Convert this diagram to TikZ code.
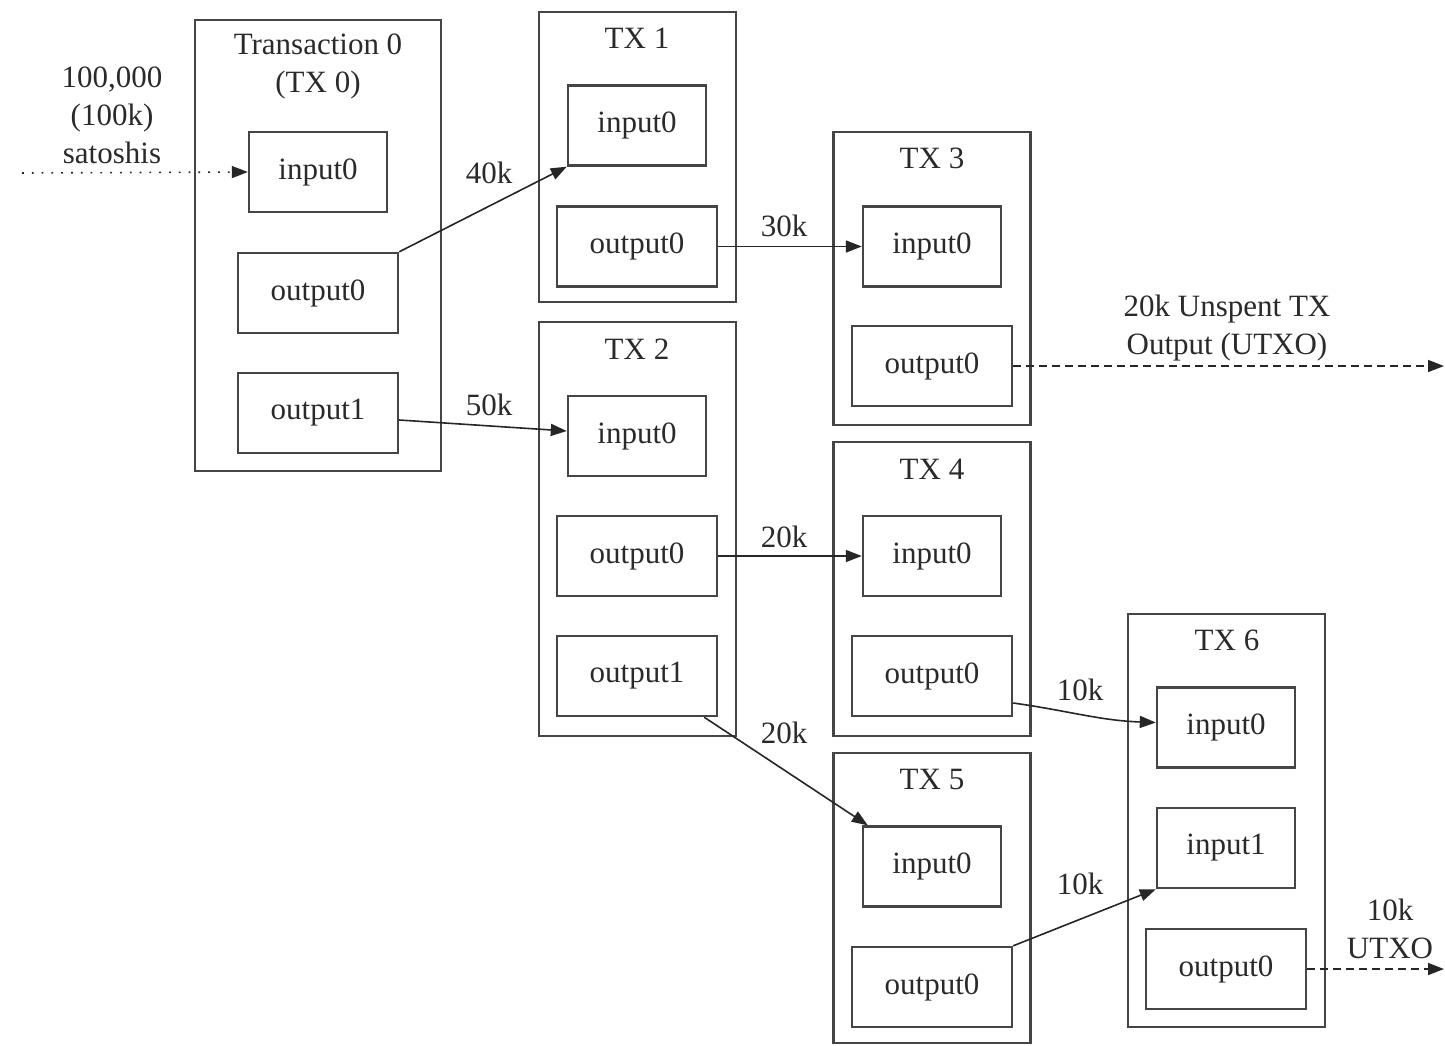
\documentclass[tikz,border=0pt]{standalone}
\usepackage{fontspec}
\setmainfont{Liberation Serif}
\usetikzlibrary{arrows.meta,calc}
\definecolor{boxc}{HTML}{454545}
\definecolor{txtc}{HTML}{2A2A2A}
\begin{document}
\begin{tikzpicture}[x=0.5pt,y=-0.5pt,
  every node/.style={font=\fontsize{15.5pt}{19pt}\selectfont, text=txtc},
  txbox/.style={draw=boxc, line width=1.1pt, inner sep=0pt, minimum width=98.5pt},
  inbox/.style={draw=boxc, line width=1.2pt, inner sep=0pt, minimum width=69pt, minimum height=40pt},
  outbox/.style={draw=boxc, line width=1.2pt, inner sep=0pt, minimum width=80pt, minimum height=40pt},
  lbl/.style={align=center, inner sep=0pt},
  edge/.style={draw=black!85, line width=0.8pt, -{Triangle[length=8pt,width=6pt]}},
  dotedge/.style={edge, dash pattern=on 0.9pt off 4pt},
  dashedge/.style={edge, dash pattern=on 4pt off 2.5pt}
]
\useasboundingbox (0,0) rectangle (1445,1045);

% outer transaction boxes
\node[txbox, minimum width=123pt, minimum height=225.5pt] (tx0) at (318,245.5) {};
\node[txbox, minimum height=145pt] (tx1) at (637.5,157) {};
\node[txbox, minimum height=207pt] (tx2) at (637.5,529) {};
\node[txbox, minimum height=146.5pt] (tx3) at (932,278.5) {};
\node[txbox, minimum height=147pt] (tx4) at (932,589) {};
\node[txbox, minimum height=145pt] (tx5) at (932,898) {};
\node[txbox, minimum height=206.5pt] (tx6) at (1226.5,820.5) {};

% titles
\node[lbl] (ttl0) at (318,66) {Transaction 0\\(TX 0)};
\node[lbl] (ttl1) at (637,38) {TX 1};
\node[lbl] (ttl2) at (637,349) {TX 2};
\node[lbl] (ttl3) at (932,158) {TX 3};
\node[lbl] (ttl4) at (932,469) {TX 4};
\node[lbl] (ttl5) at (932,779) {TX 5};
\node[lbl] (ttl6) at (1227,640) {TX 6};

% inner boxes
\node[inbox] (t0i0) at (318,172) {input0};
\node[outbox] (t0o0) at (318,293) {output0};
\node[outbox] (t0o1) at (318,413) {output1};

\node[inbox] (t1i0) at (637,125.5) {input0};
\node[outbox] (t1o0) at (637,246.5) {output0};

\node[inbox] (t2i0) at (637,436) {input0};
\node[outbox] (t2o0) at (637,556) {output0};
\node[outbox] (t2o1) at (637,676) {output1};

\node[inbox] (t3i0) at (932,246.5) {input0};
\node[outbox] (t3o0) at (932,366) {output0};

\node[inbox] (t4i0) at (932,556) {input0};
\node[outbox] (t4o0) at (932,676) {output0};

\node[inbox] (t5i0) at (932,866.5) {input0};
\node[outbox] (t5o0) at (932,987) {output0};

\node[inbox] (t6i0) at (1226,727.5) {input0};
\node[inbox] (t6i1) at (1226,848) {input1};
\node[outbox] (t6o0) at (1226,969) {output0};

% free ends
\coordinate (src) at (22,173);
\coordinate (utxo1) at (1444,366);
\coordinate (utxo2) at (1444,969);

% edge labels
\node[lbl] (l0) at (112,115) {100,000\\(100k)\\satoshis};
\node[lbl] (l40) at (489,173) {40k};
\node[lbl] (l50) at (489,405) {50k};
\node[lbl] (l30) at (784,226) {30k};
\node[lbl] (l20a) at (784,537) {20k};
\node[lbl] (l20b) at (784,733) {20k};
\node[lbl] (l10a) at (1080,690) {10k};
\node[lbl] (l10b) at (1080,884) {10k};
\node[lbl] (lu1) at (1227,328) {20k Unspent TX\\Output (UTXO)};
\node[lbl] (lu2) at (1390,929) {10k\\UTXO};

% connectors
\draw[dotedge] (src) -- (t0i0.west);
\draw[edge] (t0o0.north east) -- (t1i0.south west);
\draw[edge] ($(t0o1.east)+(0,7)$) -- ($(t2i0.west)+(0,-5)$);
\draw[edge] (t1o0.east) -- (t3i0.west);
\draw[dashedge] (t3o0.east) -- (utxo1);
\draw[edge] (t2o0.east) -- (t4i0.west);
\draw[edge] ($(t2o1.south east)+(-14,0)$) -- ($(t5i0.north west)+(6,0)$);
\draw[edge] ($(t4o0.east)+(0,27)$) to[out=-8,in=178] ($(t6i0.west)+(0,-5)$);
\draw[edge] (t5o0.north east) -- (t6i1.south west);
\draw[dashedge] (t6o0.east) -- (utxo2);
\end{tikzpicture}
\end{document}
